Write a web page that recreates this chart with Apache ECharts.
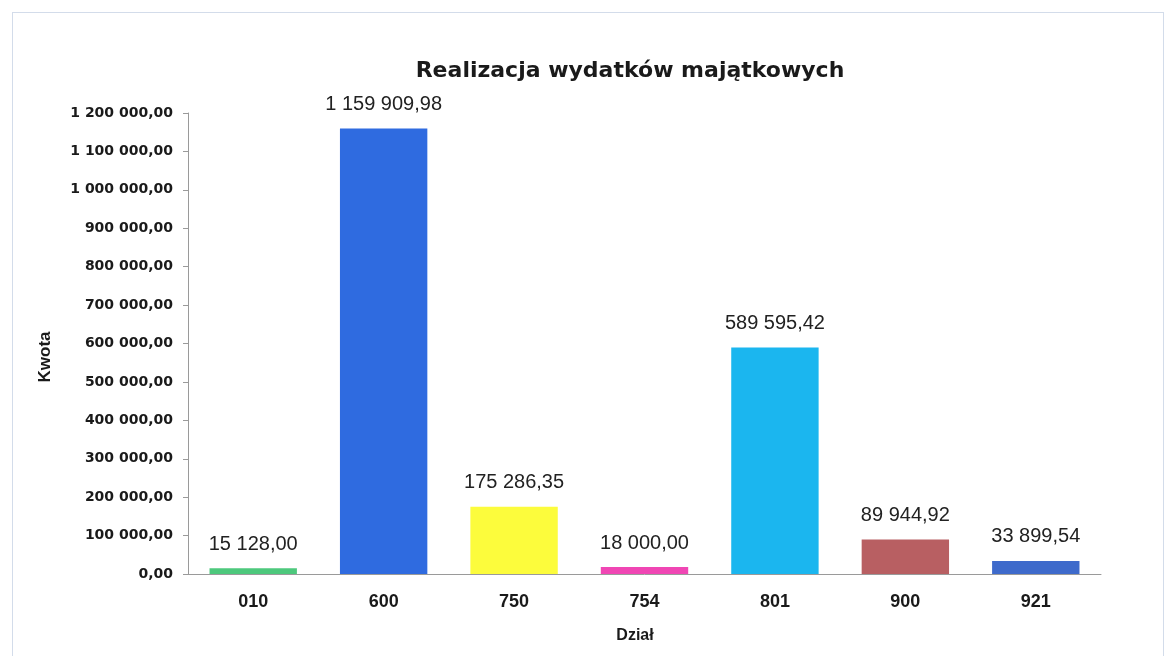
<!DOCTYPE html>
<html>
<head>
<meta charset="utf-8">
<script src="https://cdn.jsdelivr.net/npm/echarts@6/dist/echarts.min.js"></script>
<style>
  html,body{margin:0;padding:0;background:#fff;}
  .frame{position:absolute;left:12px;top:12px;width:1150px;height:660px;border:1px solid #d3dcea;}
  #chart{position:absolute;left:0;top:0;width:1166px;height:656px;}
</style>
</head>
<body>
<div class="frame"></div>
<div id="chart"></div>
<script>
// dane z wykresu
const categories=['010','600','750','754','801','900','921']
const values=[15128.00,1159909.98,175286.35,18000.00,589595.42,89944.92,33899.54]
const barColors=['#4dc87c','#2f6be0','#fcfc3c','#f046b4','#1bb6ef','#b85f62','#3e6acb']
const yTicks=[0,100000,200000,300000,400000,500000,600000,700000,800000,900000,1000000,1100000,1200000]

// 1 200 000,00
const fmt=(v)=>{
  let [i,d]=Number(v).toFixed(2).split('.')
  return i.replace(/\B(?=(\d{3})+(?!\d))/g,' ')+','+d
}

const chartInstance=echarts.init(document.getElementById('chart'))
let option={
  animation:false,
  title:{
    text:'Realizacja wydatków majątkowych',
    left:625,
    top:55,
    textAlign:'center',
    textStyle:{
      fontFamily:'DejaVu Sans',
      fontWeight:'bold',
      fontSize:22,
      color:'#1a1a1a'
    }
  },
  grid:{
    left:188,
    right:65,
    top:113,
    bottom:82
  },
  xAxis:{
    type:'category',
    data:categories,
    axisLine:{lineStyle:{color:'#9a9a9a'}},
    axisTick:{length:5,lineStyle:{color:'#9a9a9a'}},
    axisLabel:{
      margin:19,
      fontFamily:'Liberation Sans',
      fontWeight:'bold',
      fontSize:18,
      color:'#1a1a1a'
    }
  },
  yAxis:{
    type:'value',
    min:yTicks[0],
    max:yTicks[yTicks.length-1],
    interval:yTicks[1]-yTicks[0],
    axisLine:{show:true,lineStyle:{color:'#9a9a9a'}},
    axisTick:{show:true,length:5,lineStyle:{color:'#9a9a9a'}},
    splitLine:{show:false},
    axisLabel:{
      margin:15,
      formatter:fmt,
      fontFamily:'DejaVu Sans',
      fontWeight:'bold',
      fontSize:14,
      color:'#1a1a1a'
    }
  },
  graphic:[
    { //nazwa osi y
      type:'text',
      x:45,
      y:357,
      rotation:Math.PI/2,
      style:{
        text:'Kwota',
        font:'bold 17px "Liberation Sans"',
        fill:'#1a1a1a',
        align:'center',
        verticalAlign:'middle'
      }
    },
    { //nazwa osi x
      type:'text',
      x:635,
      y:636,
      style:{
        text:'Dział',
        font:'bold 16px "Liberation Sans"',
        fill:'#1a1a1a',
        align:'center',
        verticalAlign:'middle'
      }
    }
  ],
  series:[
    {
      type:'bar',
      barWidth:'67%',
      data:values.map((v,i)=>({
        value:v,
        itemStyle:{color:barColors[i]}
      })),
      label:{
        show:true,
        position:'top',
        distance:14,
        formatter:(p)=>fmt(p.value),
        fontFamily:'Liberation Sans',
        fontSize:20,
        color:'#222'
      }
    }
  ]
}
chartInstance.setOption(option)
</script>
</body>
</html>
